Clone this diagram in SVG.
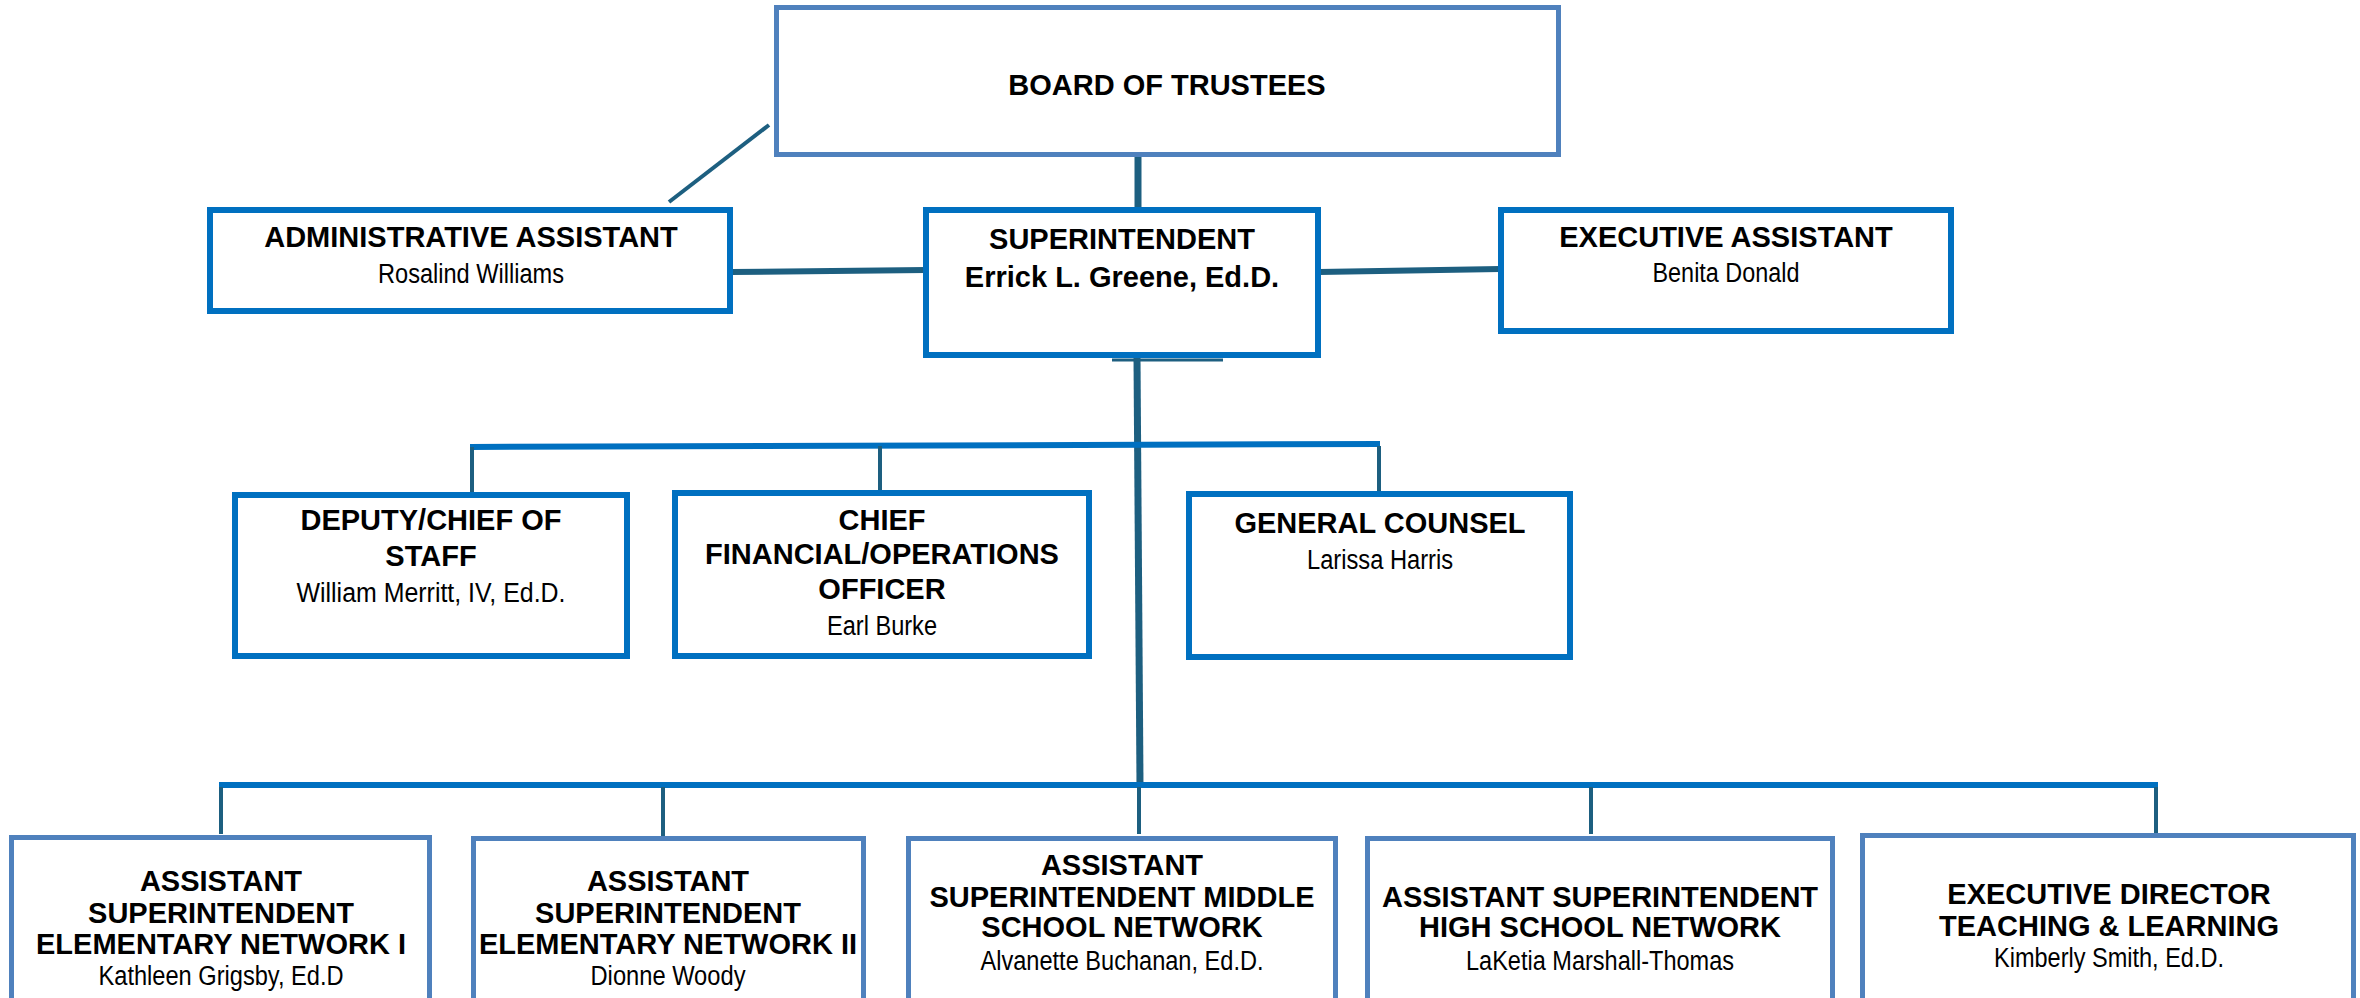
<svg xmlns="http://www.w3.org/2000/svg" width="2360" height="998" viewBox="0 0 2360 998">
<style>
.bx{fill:#ffffff;stroke:#0070c0;stroke-width:6}
.bl{fill:#ffffff;stroke:#4f81bd;stroke-width:5}
.h{font-family:"Liberation Sans",Arial,sans-serif;font-weight:bold;font-size:29px;fill:#000;text-anchor:middle}
.n{font-family:"Liberation Sans",Arial,sans-serif;font-size:27px;fill:#000;text-anchor:middle}
.t{stroke:#1d5f80;fill:none;stroke-linecap:butt}
.b{stroke:#0070c0;fill:none}
</style>
<rect width="2360" height="998" fill="#ffffff"/>
<g id="connectors">
<line class="t" x1="669" y1="202" x2="769" y2="125" stroke-width="4"/>
<line class="t" x1="1138" y1="155" x2="1138" y2="209" stroke-width="7"/>
<line class="t" x1="731" y1="272" x2="926" y2="270" stroke-width="6"/>
<line class="t" x1="1319" y1="272" x2="1500" y2="269" stroke-width="6"/>
<line class="t" x1="1112" y1="360" x2="1223" y2="360" stroke-width="3"/>
<line class="t" x1="1137" y1="358" x2="1140" y2="785" stroke-width="7"/>
<line class="b" x1="470" y1="447" x2="1380" y2="444" stroke-width="6"/>
<line class="t" x1="472" y1="447" x2="472" y2="494" stroke-width="4"/>
<line class="t" x1="880" y1="446" x2="880" y2="492" stroke-width="4"/>
<line class="t" x1="1379" y1="446" x2="1379" y2="495" stroke-width="4"/>
<line class="b" x1="219" y1="785" x2="2158" y2="785" stroke-width="6"/>
<line class="t" x1="221" y1="787" x2="221" y2="834" stroke-width="4"/>
<line class="t" x1="663" y1="787" x2="663" y2="838" stroke-width="4"/>
<line class="t" x1="1139" y1="787" x2="1139" y2="834" stroke-width="4"/>
<line class="t" x1="1591" y1="787" x2="1591" y2="834" stroke-width="4"/>
<line class="t" x1="2156" y1="787" x2="2156" y2="834" stroke-width="4"/>
</g>
<g id="board">
<rect class="bl" x="776.5" y="7.5" width="782" height="147"/>
<text class="h" x="1167" y="95" font-size="37">BOARD OF TRUSTEES</text>
</g>
<g id="admin-assistant">
<rect class="bx" x="210" y="210" width="520" height="101"/>
<text class="h" x="471" y="247">ADMINISTRATIVE ASSISTANT</text>
<text class="n" x="471" y="283" textLength="186" lengthAdjust="spacingAndGlyphs">Rosalind Williams</text>
</g>
<g id="superintendent">
<rect class="bx" x="926" y="210" width="392" height="145"/>
<text class="h" x="1122" y="249" font-size="31.5">SUPERINTENDENT</text>
<text class="h" x="1122" y="287" font-size="31.5">Errick L. Greene, Ed.D.</text>
</g>
<g id="executive-assistant">
<rect class="bx" x="1501" y="210" width="450" height="121"/>
<text class="h" x="1726" y="247">EXECUTIVE ASSISTANT</text>
<text class="n" x="1726" y="282" textLength="147" lengthAdjust="spacingAndGlyphs">Benita Donald</text>
</g>
<g id="deputy">
<rect class="bx" x="235" y="495" width="392" height="161"/>
<text class="h" x="431" y="530">DEPUTY/CHIEF OF</text>
<text class="h" x="431" y="566">STAFF</text>
<text class="n" x="431" y="602" textLength="269" lengthAdjust="spacingAndGlyphs">William Merritt, IV, Ed.D.</text>
</g>
<g id="cfo">
<rect class="bx" x="675" y="493" width="414" height="163"/>
<text class="h" x="882" y="530">CHIEF</text>
<text class="h" x="882" y="564">FINANCIAL/OPERATIONS</text>
<text class="h" x="882" y="599">OFFICER</text>
<text class="n" x="882" y="635" textLength="110" lengthAdjust="spacingAndGlyphs">Earl Burke</text>
</g>
<g id="general-counsel">
<rect class="bx" x="1189" y="494" width="381" height="163"/>
<text class="h" x="1380" y="533" font-size="31.5">GENERAL COUNSEL</text>
<text class="n" x="1380" y="569" textLength="146" lengthAdjust="spacingAndGlyphs">Larissa Harris</text>
</g>
<g id="asst-elem-1">
<rect class="bl" x="11.5" y="837.5" width="418" height="180"/>
<text class="h" x="221" y="891" font-size="28.5">ASSISTANT</text>
<text class="h" x="221" y="923" font-size="28.5">SUPERINTENDENT</text>
<text class="h" x="221" y="954" font-size="28.5">ELEMENTARY NETWORK I</text>
<text class="n" x="221" y="985" textLength="245" lengthAdjust="spacingAndGlyphs">Kathleen Grigsby, Ed.D</text>
</g>
<g id="asst-elem-2">
<rect class="bl" x="473.5" y="838.5" width="390" height="180"/>
<text class="h" x="668" y="891" font-size="28.5">ASSISTANT</text>
<text class="h" x="668" y="923" font-size="28.5">SUPERINTENDENT</text>
<text class="h" x="668" y="954" font-size="28.5">ELEMENTARY NETWORK II</text>
<text class="n" x="668" y="985" textLength="155" lengthAdjust="spacingAndGlyphs">Dionne Woody</text>
</g>
<g id="asst-middle">
<rect class="bl" x="908.5" y="838.5" width="427" height="180"/>
<text class="h" x="1122" y="875" font-size="28.5">ASSISTANT</text>
<text class="h" x="1122" y="907" font-size="28.5">SUPERINTENDENT MIDDLE</text>
<text class="h" x="1122" y="937" font-size="28.5">SCHOOL NETWORK</text>
<text class="n" x="1122" y="970" textLength="283" lengthAdjust="spacingAndGlyphs">Alvanette Buchanan, Ed.D.</text>
</g>
<g id="asst-high">
<rect class="bl" x="1367.5" y="838.5" width="465" height="180"/>
<text class="h" x="1600" y="907" font-size="28.5">ASSISTANT SUPERINTENDENT</text>
<text class="h" x="1600" y="937" font-size="28.5">HIGH SCHOOL NETWORK</text>
<text class="n" x="1600" y="970" textLength="268" lengthAdjust="spacingAndGlyphs">LaKetia Marshall-Thomas</text>
</g>
<g id="exec-director">
<rect class="bl" x="1862.5" y="835.5" width="491" height="180"/>
<text class="h" x="2109" y="904" font-size="28.5">EXECUTIVE DIRECTOR</text>
<text class="h" x="2109" y="936" font-size="28.5">TEACHING &amp; LEARNING</text>
<text class="n" x="2109" y="967" textLength="230" lengthAdjust="spacingAndGlyphs">Kimberly Smith, Ed.D.</text>
</g>
</svg>
